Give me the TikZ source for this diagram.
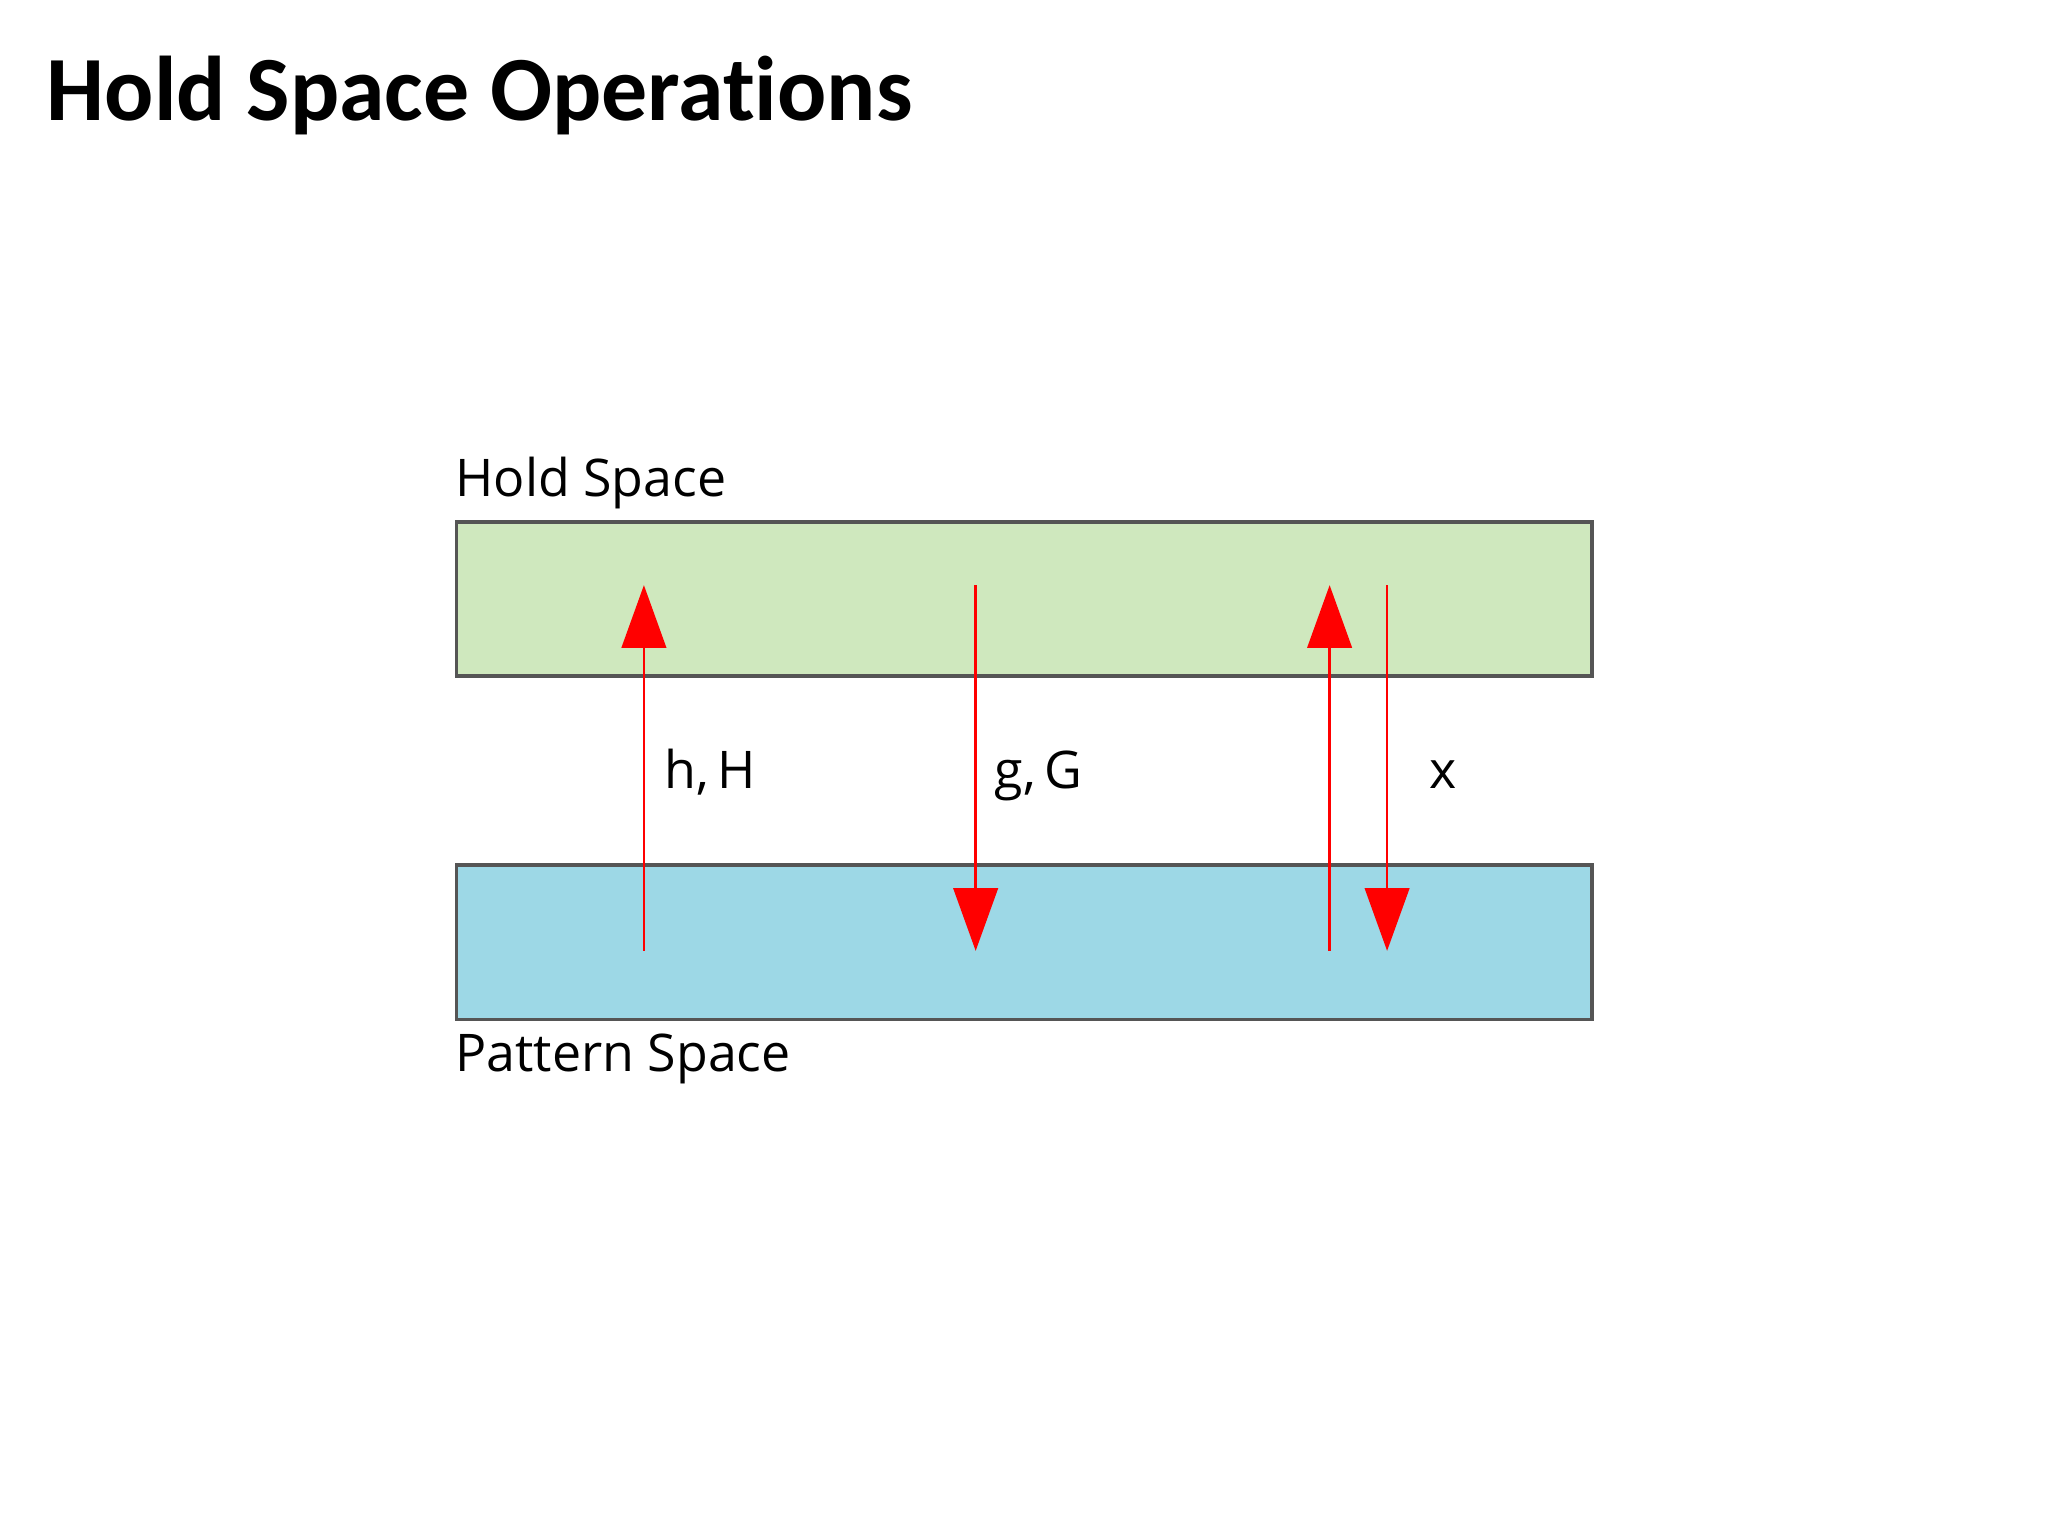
\documentclass[tikz,border=0pt]{standalone}
\usepackage{fontspec}
\setmainfont{Open Sans}
\newfontfamily\titlefont[Ligatures=NoCommon]{Carlito}
\usetikzlibrary{arrows.meta}
\definecolor{holdg}{HTML}{CFE8BE}
\definecolor{patb}{HTML}{9DD8E6}
\definecolor{edge}{HTML}{555555}
\tikzset{
  space/.style={draw=edge,line width=0.8pt,minimum width=8.69cm,minimum height=1.18cm,inner sep=0pt,anchor=north west},
  lbl/.style={font=\fontsize{11.3}{14}\selectfont,inner sep=0pt},
  op/.style={red,line width=0.6pt,-{Triangle[width=3.4mm,length=4.8mm]}}
}
\begin{document}
\begin{tikzpicture}[x=0.01cm,y=-0.01cm]
\useasboundingbox (0,0) rectangle (1568,1176);
\node[anchor=base west,inner sep=0pt,font=\titlefont\bfseries\fontsize{20}{24}\selectfont] (title) at (35,92) {Hold Space Operations};
\node[space,fill=holdg] (hold) at (348,398) {};
\node[space,fill=patb] (pat) at (348,661) {};
\node[lbl,anchor=base west] (hl) at (348,380) {Hold Space};
\node[lbl,anchor=base west] (pl) at (348,820) {Pattern Space};
\coordinate (a1) at (493,728); \coordinate (a2) at (493,448);
\coordinate (b1) at (747,448); \coordinate (b2) at (747,728);
\coordinate (c1) at (1018,728); \coordinate (c2) at (1018,448);
\coordinate (d1) at (1062,448); \coordinate (d2) at (1062,728);
\draw[op] (a1) -- (a2);
\draw[op] (b1) -- (b2);
\draw[op] (c1) -- (c2);
\draw[op] (d1) -- (d2);
\node[lbl,anchor=base west] (lh) at (508,604) {h,\,H};
\node[lbl,anchor=base west] (lg) at (761,604) {g,\,G};
\node[lbl,anchor=base west] (lx) at (1094,604) {x};
\end{tikzpicture}
\end{document}
